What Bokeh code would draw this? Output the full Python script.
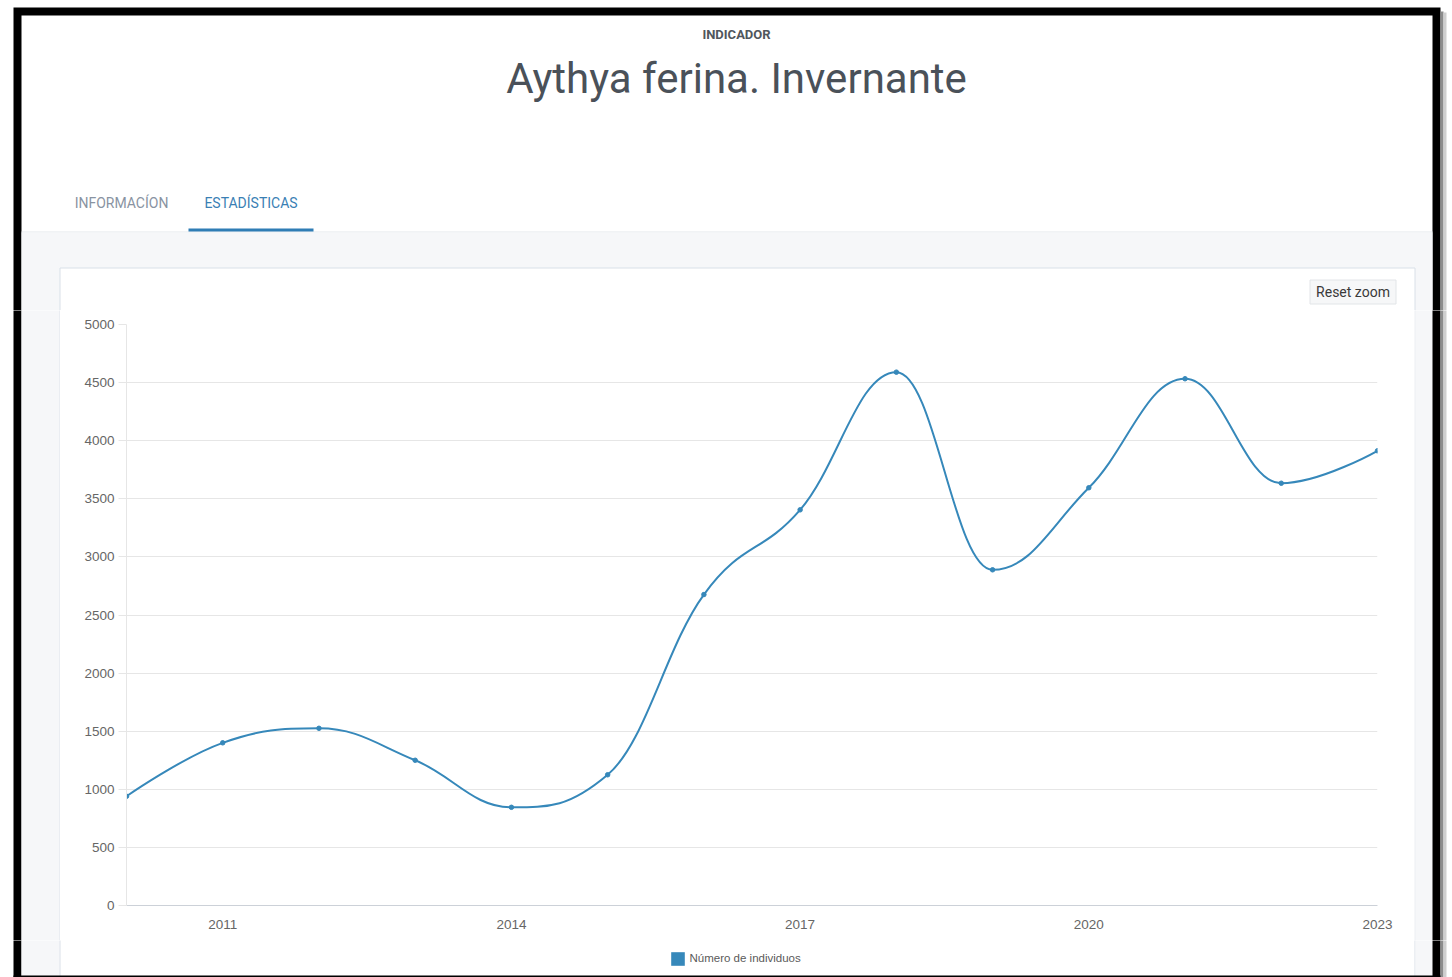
from bokeh.plotting import figure
from bokeh.layouts import column, row
from bokeh.models import (Range1d, FixedTicker, Legend, LegendItem, ColumnDataSource)
from bokeh.core.properties import value
from bokeh.embed import file_html
from bokeh.resources import INLINE

# ---------------- data ----------------
years = [2010, 2011, 2012, 2013, 2014, 2015, 2016, 2017, 2018, 2019, 2020, 2021, 2022, 2023]
individuos = [940, 1400, 1525, 1250, 845, 1125, 2676, 3405, 4590, 2889, 3595, 4533, 3634, 3913]
x_tick_values = [2011, 2014, 2017, 2020, 2023]
y_tick_values = [0, 500, 1000, 1500, 2000, 2500, 3000, 3500, 4000, 4500, 5000]
series_name = "Número de individuos"
kicker_text = "INDICADOR"
title_text = "Aythya ferina. Invernante"
tab_labels = ["INFORMACÍON", "ESTADÍSTICAS"]
button_text = "Reset zoom"

LINE_COLOR = "#3688ba"
GRAY_BG = "#f6f7f9"
CARD_LINE = "#d9e0e8"


def spline_segments(xs, ys, smoothing=1.5):
    """Highcharts-style spline: cubic bezier segments between points."""
    n = len(xs)
    denom = smoothing + 1
    right_c = [None] * n
    segs = {"x0": [], "y0": [], "x1": [], "y1": [], "cx0": [], "cy0": [], "cx1": [], "cy1": []}
    for i in range(1, n):
        px, py = xs[i], ys[i]
        lx, ly = xs[i - 1], ys[i - 1]
        lcx, lcy = px, py
        if i < n - 1:
            nx, ny = xs[i + 1], ys[i + 1]
            lcx = (smoothing * px + lx) / denom
            lcy = (smoothing * py + ly) / denom
            rcx = (smoothing * px + nx) / denom
            rcy = (smoothing * py + ny) / denom
            corr = 0.0
            if rcx != lcx:
                corr = ((rcy - lcy) * (rcx - px)) / (rcx - lcx) + py - rcy
            lcy += corr
            rcy += corr
            if lcy > ly and lcy > py:
                lcy = max(ly, py); rcy = 2 * py - lcy
            elif lcy < ly and lcy < py:
                lcy = min(ly, py); rcy = 2 * py - lcy
            if rcy > ny and rcy > py:
                rcy = max(ny, py); lcy = 2 * py - rcy
            elif rcy < ny and rcy < py:
                rcy = min(ny, py); lcy = 2 * py - rcy
            right_c[i] = (rcx, rcy)
        pc = right_c[i - 1] if right_c[i - 1] is not None else (lx, ly)
        segs["x0"].append(lx); segs["y0"].append(ly)
        segs["x1"].append(px); segs["y1"].append(py)
        segs["cx0"].append(pc[0]); segs["cy0"].append(pc[1])
        segs["cx1"].append(lcx); segs["cy1"].append(lcy)
    return segs


# ---------------- page geometry (px) ----------------
TOTAL_W, TOTAL_H = 1452, 977
HEADER_H = 310
CARD_L, CARD_R = 60, 1414          # inner card span of the chart figure
CHART_BOTTOM = 940
RIGHT_W = 60


def deco_fig(x0, x1, y0, y1):
    f = figure(width=x1 - x0, height=y1 - y0, output_backend="svg",
               toolbar_location=None, x_axis_type=None, y_axis_type=None,
               x_range=Range1d(x0, x1), y_range=Range1d(y1, y0),
               min_border=0, background_fill_color="white",
               border_fill_color="white")
    f.outline_line_color = None
    f.grid.visible = False
    return f


def rect(f, l, r, t, b, fill, line=None, lw=1):
    f.quad(left=[l], right=[r], top=[t], bottom=[b], fill_color=fill,
           line_color=line, line_width=lw)


def txt(f, s, x, y, size, color, font="Roboto", align="center",
        baseline="middle", style="normal"):
    f.text(x=[x], y=[y], text=[s], text_font=value(font),
           text_font_size=value(size), text_color=color, text_align=align,
           text_baseline=baseline, text_font_style=style)


def side_bands(f, y0, y1, left_side=True, right_side=True):
    """Vertical bands of the page: dark frame, grey area, card borders."""
    if left_side:
        rect(f, 13, 21, y0, y1, "#000000")
        rect(f, 21, 59, y0, y1, GRAY_BG)
        rect(f, 59, 60, y0, y1, CARD_LINE)
    if right_side:
        rect(f, 1414, 1415, y0, y1, CARD_LINE)
        rect(f, 1415, 1432, y0, y1, GRAY_BG)
        rect(f, 1432, 1440, y0, y1, "#000000")
        rect(f, 1440, 1443, y0, y1, "#8c8c8c")
        rect(f, 1443, 1446, y0, y1, "#cfcfcf")


# ---- header ----
hdr = deco_fig(0, TOTAL_W, 0, HEADER_H)
rect(hdr, 13, 1440, 7, HEADER_H + 5, "#000000")
rect(hdr, 1440, 1443, 11, HEADER_H + 5, "#8c8c8c")
rect(hdr, 1443, 1446, 12, HEADER_H + 5, "#cfcfcf")
rect(hdr, 21, 1432, 15, HEADER_H + 5, "#ffffff")
rect(hdr, 21, 1432, 231, 232, "#e4e7eb")
rect(hdr, 21, 1432, 232, HEADER_H + 5, GRAY_BG)
rect(hdr, 59.5, 1414.5, 267.5, HEADER_H + 20, "#ffffff", line=CARD_LINE)
rect(hdr, 188, 313, 228, 231, "#2f7db5")
rect(hdr, 1309.5, 1395.5, 279.5, 303.5, "#f6f7f8", line="#e2e5e8")
txt(hdr, kicker_text, 736, 34, "13px", "#50565c", style="bold")
txt(hdr, title_text, 736, 77.5, "42px", "#4a5159")
txt(hdr, tab_labels[0], 121, 202.5, "14px", "#8993a2")
txt(hdr, tab_labels[1], 250.5, 202.5, "14px", "#3a7fb4")
txt(hdr, button_text, 1352.5, 291.5, "14px", "#3a3a3a")

# ---- left / right strips beside the chart ----
left = deco_fig(0, CARD_L, HEADER_H, CHART_BOTTOM)
side_bands(left, HEADER_H - 5, CHART_BOTTOM + 5, right_side=False)

right = deco_fig(CARD_R, CARD_R + RIGHT_W, HEADER_H, CHART_BOTTOM)
side_bands(right, HEADER_H - 5, CHART_BOTTOM + 5, left_side=False)

# ---- chart ----
FRAME_L, FRAME_R, FRAME_T, FRAME_B = 126, 1377, 324, 905
p = figure(width=CARD_R - CARD_L, height=CHART_BOTTOM - HEADER_H, output_backend="svg",
           toolbar_location=None,
           x_range=Range1d(2010, 2023), y_range=Range1d(0, 5000),
           min_border_left=FRAME_L - CARD_L, min_border_right=CARD_R - FRAME_R,
           min_border_top=FRAME_T - HEADER_H,
           min_border_bottom=CHART_BOTTOM - FRAME_B,
           background_fill_color="white", border_fill_color="white")
p.outline_line_color = None

p.xaxis.ticker = FixedTicker(ticks=x_tick_values)
p.yaxis.ticker = FixedTicker(ticks=y_tick_values)
p.xaxis.minor_tick_line_color = None
p.yaxis.minor_tick_line_color = None
p.xaxis.major_tick_in = 0
p.xaxis.major_tick_out = 0
p.xaxis.axis_line_color = "#ccd1d8"
p.xaxis.major_label_standoff = 14
p.yaxis.major_tick_in = 0
p.yaxis.major_tick_out = 8
p.yaxis.major_tick_line_color = "#e6e6e6"
p.yaxis.axis_line_color = "#e6e6e6"
p.yaxis.major_label_standoff = 4
for ax in (p.xaxis, p.yaxis):
    ax.major_label_text_font = "Liberation Sans"
    ax.major_label_text_font_size = "13.5px"
    ax.major_label_text_color = "#666666"
p.xgrid.grid_line_color = None
p.ygrid.ticker = FixedTicker(ticks=y_tick_values)
p.ygrid.grid_line_color = "#e6e6e6"
p.ygrid.grid_line_width = 1

segs = spline_segments(years, individuos)
p.bezier(source=ColumnDataSource(segs), x0="x0", y0="y0", x1="x1", y1="y1",
         cx0="cx0", cy0="cy0", cx1="cx1", cy1="cy1",
         line_color=LINE_COLOR, line_width=2)
p.scatter(years, individuos, size=4.5, marker="circle",
          fill_color=LINE_COLOR, line_color=LINE_COLOR)

# ---- bottom strip with legend ----
bot = deco_fig(0, TOTAL_W, CHART_BOTTOM, TOTAL_H)
side_bands(bot, CHART_BOTTOM - 5, TOTAL_H + 5)
rect(bot, 13, 1440, 975, 978, "#000000")
sq = bot.quad(left=[float("nan")], right=[float("nan")], top=[float("nan")],
              bottom=[float("nan")], fill_color=LINE_COLOR, line_color=None)
GLYPH = 17
sq_center_x, sq_center_y = 677, 958
legend = Legend(items=[LegendItem(label=series_name, renderers=[sq])],
                location=(sq_center_x - GLYPH / 2, TOTAL_H - (sq_center_y + GLYPH / 2)),
                orientation="horizontal",
                glyph_width=GLYPH, glyph_height=GLYPH, label_standoff=4,
                label_text_font="Liberation Sans", label_text_font_size="11.5px",
                label_text_color="#5a5a5a", label_height=GLYPH,
                padding=0, margin=0, spacing=0,
                border_line_color=None, background_fill_alpha=0)
bot.add_layout(legend)

# wrapping the chart in its own column keeps the strips' frames independent
layout = column(row(hdr, spacing=0),
                row(left, column(p, spacing=0), right, spacing=0),
                row(bot, spacing=0),
                spacing=0)
open("out.html", "w").write(file_html(layout, INLINE))
